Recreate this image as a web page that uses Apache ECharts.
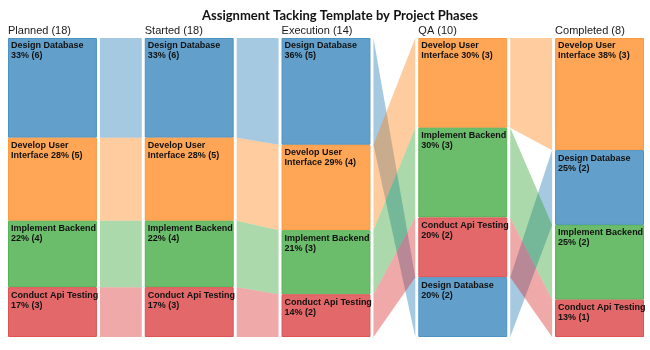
<!DOCTYPE html>
<html>
<head>
<meta charset="utf-8">
<script src="https://cdn.jsdelivr.net/npm/echarts@6/dist/echarts.min.js"></script>
<style>html,body{margin:0;padding:0;background:#fff}#c{width:650px;height:350px}</style>
</head>
<body>
<div id="c"></div>
<script>
// ---- data ----
var phases = ['Planned', 'Started', 'Execution', 'QA', 'Completed'];
var tasks = ['Design Database', 'Develop User Interface', 'Implement Backend', 'Conduct Api Testing'];
var designDatabase = [6, 6, 5, 2, 2];
var developUserInterface = [5, 5, 4, 3, 3];
var implementBackend = [4, 4, 3, 3, 2];
var conductApiTesting = [3, 3, 2, 2, 1];
// stacking order (top to bottom) of task indices in each phase
var phaseOrder = [
  [0, 1, 2, 3],
  [0, 1, 2, 3],
  [0, 1, 2, 3],
  [1, 2, 3, 0],
  [1, 0, 2, 3]
];

// ---- styles ----
var baseRGB = [[31, 119, 180], [255, 127, 14], [44, 160, 44], [214, 39, 40]];
function rgba(c, a) { return 'rgba(' + c[0] + ',' + c[1] + ',' + c[2] + ',' + a + ')'; }
var COLW = 0.65;   // column width in x units (1 unit = column pitch)
var GAP = 3;       // px gap between node and flow
var LABEL_FONT = 'bold 9px "Liberation Sans", Arial, sans-serif';

var measureCtx = document.createElement('canvas').getContext('2d');
measureCtx.font = LABEL_FONT;
function wrapTokens(tokens, maxW) {
  var lines = [], cur = '';
  tokens.forEach(function (tok) {
    var trial = cur ? cur + ' ' + tok : tok;
    if (cur && measureCtx.measureText(trial).width > maxW) { lines.push(cur); cur = tok; }
    else cur = trial;
  });
  if (cur) lines.push(cur);
  return lines.join('\n');
}

var values = [designDatabase, developUserInterface, implementBackend, conductApiTesting];
var totals = phases.map(function (p, i) {
  return values.reduce(function (s, arr) { return s + arr[i]; }, 0);
});

// node layout data (fractions of column)
var nodeData = [];
var span = {};
phases.forEach(function (p, i) {
  var acc = 0;
  span[i] = {};
  phaseOrder[i].forEach(function (t) {
    var v = values[t][i];
    var f = v / totals[i];
    nodeData.push([i, acc, acc + f, t, v, Math.round(f * 100)]);
    span[i][t] = [acc, acc + f];
    acc += f;
  });
});
var flowData = [];
for (var i = 0; i < phases.length - 1; i++) {
  for (var t = 0; t < tasks.length; t++) {
    var a = span[i][t], b = span[i + 1][t];
    flowData.push([i, a[0], a[1], b[0], b[1], t]);
  }
}
var headerData = phases.map(function (p, i) { return [i, 0, p + ' (' + totals[i] + ')']; });

var chart = echarts.init(document.getElementById('c'), null, { renderer: 'canvas' });
chart.setOption({
  animation: false,
  title: {
    text: 'Assignment Tacking Template by Project Phases',
    left: 197, top: 4,
    textStyle: { fontFamily: 'Lato', fontWeight: 'bold', fontSize: 13, color: '#111' }
  },
  grid: { left: 8, right: 6, top: 38, bottom: 13 },
  xAxis: { type: 'value', min: 0, max: phases.length - 1 + COLW, show: false },
  yAxis: { type: 'value', min: 0, max: 1, inverse: true, show: false },
  series: [
    {
      type: 'custom', data: flowData, silent: true,
      renderItem: function (params, api) {
        var i = api.value(0), t = api.value(5);
        var xl = api.coord([i + COLW, 0])[0] + GAP;
        var xr = api.coord([i + 1, 0])[0] - GAP;
        var ya0 = api.coord([0, api.value(1)])[1], ya1 = api.coord([0, api.value(2)])[1];
        var yb0 = api.coord([0, api.value(3)])[1], yb1 = api.coord([0, api.value(4)])[1];
        return {
          type: 'polygon',
          shape: { points: [[xl, ya0], [xr, yb0], [xr, yb1], [xl, ya1]] },
          style: { fill: rgba(baseRGB[t], 0.4) }
        };
      }
    },
    {
      type: 'custom', data: nodeData, silent: true,
      renderItem: function (params, api) {
        var i = api.value(0), t = api.value(3);
        var p0 = api.coord([i, api.value(1)]);
        var p1 = api.coord([i + COLW, api.value(2)]);
        var w = p1[0] - p0[0], h = p1[1] - p0[1];
        var c = baseRGB[t];
        var fill = 'rgb(' + c.map(function (x) { return Math.round(x * 0.7 + 255 * 0.3); }).join(',') + ')';
        var stroke = 'rgb(' + c.map(function (x) { return Math.round(x * 0.8 + 255 * 0.2); }).join(',') + ')';
        var tokens = tasks[t].split(' ').concat([api.value(5) + '% (' + api.value(4) + ')']);
        return {
          type: 'group',
          children: [
            { type: 'rect', shape: { x: p0[0] + 0.5, y: p0[1] + 0.5, width: w - 1, height: h - 1 },
              style: { fill: fill, stroke: stroke, lineWidth: 1 } },
            { type: 'text', style: {
                text: wrapTokens(tokens, w + 3),
                x: p0[0] + 3, y: p0[1] + 3,
                font: LABEL_FONT, lineHeight: 10,
                fill: '#111', textAlign: 'left', textVerticalAlign: 'top'
              } }
          ]
        };
      }
    },
    {
      type: 'custom', data: headerData, silent: true,
      renderItem: function (params, api) {
        var p = api.coord([api.value(0), 0]);
        return { type: 'text', style: {
          text: headerData[params.dataIndex][2], x: p[0], y: p[1] - 2,
          font: '11px "Liberation Sans", Arial, sans-serif', fill: '#1a1a1a',
          textAlign: 'left', textVerticalAlign: 'bottom'
        } };
      }
    }
  ]
});
</script>
</body>
</html>
